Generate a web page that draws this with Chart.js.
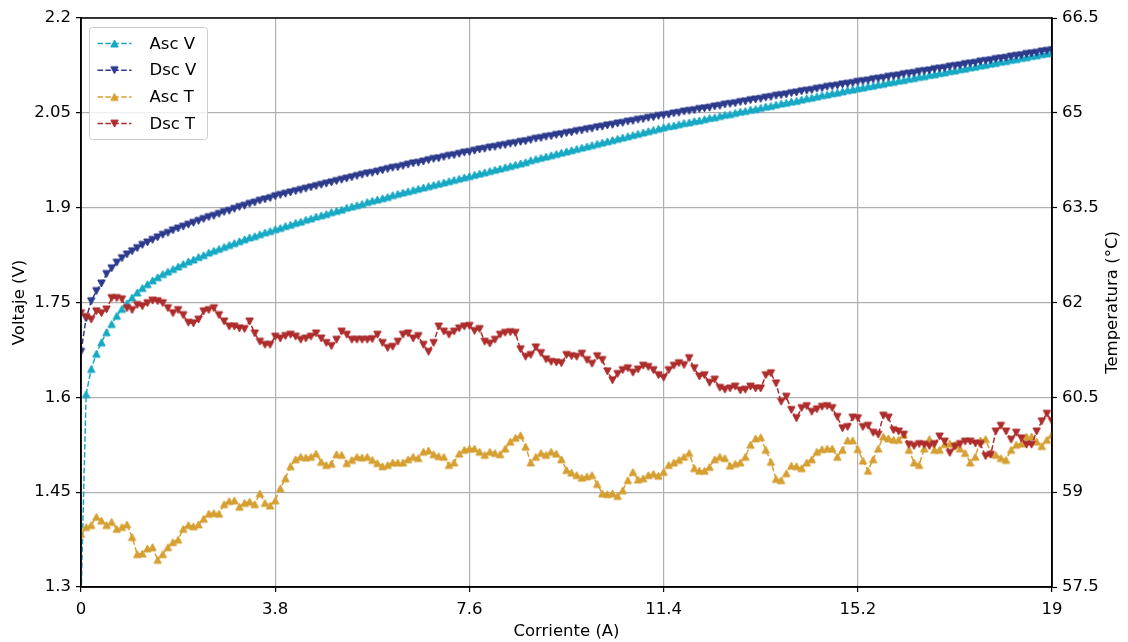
<!DOCTYPE html>
<html>
<head>
<meta charset="utf-8">
<script src="https://cdn.jsdelivr.net/npm/chart.js@4"></script>
<style>
  html, body { margin: 0; padding: 0; background: #ffffff; }
  canvas { display: block; }
</style>
</head>
<body>
<canvas id="chart" width="1128" height="642"></canvas>
<script>
// Current sweep (A), one reading every 0.1 A
const current = [
  0.0, 0.1, 0.2, 0.3, 0.4, 0.5, 0.6, 0.7, 0.8, 0.9,
  1.0, 1.1, 1.2, 1.3, 1.4, 1.5, 1.6, 1.7, 1.8, 1.9,
  2.0, 2.1, 2.2, 2.3, 2.4, 2.5, 2.6, 2.7, 2.8, 2.9,
  3.0, 3.1, 3.2, 3.3, 3.4, 3.5, 3.6, 3.7, 3.8, 3.9,
  4.0, 4.1, 4.2, 4.3, 4.4, 4.5, 4.6, 4.7, 4.8, 4.9,
  5.0, 5.1, 5.2, 5.3, 5.4, 5.5, 5.6, 5.7, 5.8, 5.9,
  6.0, 6.1, 6.2, 6.3, 6.4, 6.5, 6.6, 6.7, 6.8, 6.9,
  7.0, 7.1, 7.2, 7.3, 7.4, 7.5, 7.6, 7.7, 7.8, 7.9,
  8.0, 8.1, 8.2, 8.3, 8.4, 8.5, 8.6, 8.7, 8.8, 8.9,
  9.0, 9.1, 9.2, 9.3, 9.4, 9.5, 9.6, 9.7, 9.8, 9.9,
  10.0, 10.1, 10.2, 10.3, 10.4, 10.5, 10.6, 10.7, 10.8, 10.9,
  11.0, 11.1, 11.2, 11.3, 11.4, 11.5, 11.6, 11.7, 11.8, 11.9,
  12.0, 12.1, 12.2, 12.3, 12.4, 12.5, 12.6, 12.7, 12.8, 12.9,
  13.0, 13.1, 13.2, 13.3, 13.4, 13.5, 13.6, 13.7, 13.8, 13.9,
  14.0, 14.1, 14.2, 14.3, 14.4, 14.5, 14.6, 14.7, 14.8, 14.9,
  15.0, 15.1, 15.2, 15.3, 15.4, 15.5, 15.6, 15.7, 15.8, 15.9,
  16.0, 16.1, 16.2, 16.3, 16.4, 16.5, 16.6, 16.7, 16.8, 16.9,
  17.0, 17.1, 17.2, 17.3, 17.4, 17.5, 17.6, 17.7, 17.8, 17.9,
  18.0, 18.1, 18.2, 18.3, 18.4, 18.5, 18.6, 18.7, 18.8, 18.9,
  19.0
];

// Voltage on the ascending sweep (V)
const ascVoltage = [
  1.280, 1.605, 1.645, 1.669, 1.687, 1.703, 1.716, 1.729, 1.740, 1.749,
  1.758, 1.766, 1.773, 1.779, 1.785, 1.790, 1.795, 1.799, 1.803, 1.807,
  1.811, 1.815, 1.818, 1.822, 1.825, 1.829, 1.832, 1.835, 1.838, 1.841,
  1.844, 1.847, 1.850, 1.853, 1.855, 1.858, 1.861, 1.863, 1.866, 1.868,
  1.871, 1.873, 1.876, 1.878, 1.881, 1.883, 1.886, 1.888, 1.890, 1.893,
  1.895, 1.897, 1.900, 1.902, 1.904, 1.906, 1.909, 1.911, 1.913, 1.915,
  1.917, 1.920, 1.922, 1.924, 1.926, 1.928, 1.930, 1.932, 1.934, 1.936,
  1.938, 1.940, 1.942, 1.944, 1.946, 1.948, 1.950, 1.952, 1.954, 1.956,
  1.958, 1.960, 1.962, 1.964, 1.966, 1.968, 1.970, 1.972, 1.975, 1.977,
  1.979, 1.981, 1.983, 1.985, 1.987, 1.989, 1.991, 1.993, 1.995, 1.997,
  1.999, 2.001, 2.003, 2.005, 2.007, 2.009, 2.011, 2.013, 2.015, 2.017,
  2.019, 2.021, 2.023, 2.025, 2.027, 2.029, 2.030, 2.032, 2.034, 2.035,
  2.037, 2.038, 2.040, 2.042, 2.043, 2.045, 2.047, 2.048, 2.050, 2.052,
  2.053, 2.055, 2.056, 2.058, 2.060, 2.061, 2.063, 2.065, 2.066, 2.068,
  2.069, 2.071, 2.073, 2.074, 2.076, 2.078, 2.079, 2.081, 2.082, 2.084,
  2.086, 2.087, 2.089, 2.090, 2.092, 2.093, 2.095, 2.096, 2.098, 2.099,
  2.101, 2.102, 2.104, 2.105, 2.107, 2.108, 2.110, 2.111, 2.113, 2.114,
  2.116, 2.117, 2.119, 2.120, 2.122, 2.123, 2.125, 2.126, 2.128, 2.129,
  2.131, 2.132, 2.134, 2.135, 2.137, 2.138, 2.140, 2.141, 2.143, 2.144,
  2.146
];

// Voltage on the descending sweep (V)
const dscVoltage = [
  1.672, 1.725, 1.752, 1.768, 1.780, 1.795, 1.804, 1.813, 1.820, 1.826,
  1.831, 1.836, 1.841, 1.845, 1.849, 1.853, 1.857, 1.860, 1.864, 1.867,
  1.870, 1.873, 1.876, 1.879, 1.882, 1.885, 1.887, 1.890, 1.893, 1.895,
  1.898, 1.901, 1.903, 1.906, 1.908, 1.911, 1.913, 1.915, 1.918, 1.920,
  1.922, 1.924, 1.926, 1.928, 1.930, 1.932, 1.934, 1.936, 1.938, 1.940,
  1.942, 1.944, 1.946, 1.948, 1.950, 1.952, 1.954, 1.955, 1.957, 1.959,
  1.961, 1.963, 1.964, 1.966, 1.968, 1.970, 1.971, 1.973, 1.975, 1.977,
  1.978, 1.980, 1.982, 1.983, 1.985, 1.987, 1.988, 1.990, 1.992, 1.993,
  1.995, 1.996, 1.998, 1.999, 2.001, 2.002, 2.004, 2.005, 2.007, 2.009,
  2.010, 2.012, 2.013, 2.015, 2.016, 2.018, 2.019, 2.021, 2.022, 2.024,
  2.025, 2.027, 2.028, 2.030, 2.031, 2.033, 2.034, 2.036, 2.037, 2.039,
  2.040, 2.042, 2.043, 2.045, 2.046, 2.047, 2.049, 2.050, 2.052, 2.053,
  2.054, 2.056, 2.057, 2.058, 2.060, 2.061, 2.063, 2.064, 2.065, 2.067,
  2.068, 2.070, 2.071, 2.072, 2.074, 2.075, 2.077, 2.078, 2.079, 2.081,
  2.082, 2.084, 2.085, 2.086, 2.088, 2.089, 2.091, 2.092, 2.093, 2.095,
  2.096, 2.097, 2.099, 2.100, 2.101, 2.103, 2.104, 2.105, 2.107, 2.108,
  2.109, 2.111, 2.112, 2.113, 2.115, 2.116, 2.117, 2.119, 2.120, 2.121,
  2.123, 2.124, 2.125, 2.127, 2.128, 2.129, 2.131, 2.132, 2.133, 2.135,
  2.136, 2.137, 2.139, 2.140, 2.141, 2.143, 2.144, 2.145, 2.147, 2.148,
  2.149
];

// Temperature on the ascending sweep (°C)
const ascTemp = [
  58.34, 58.45, 58.48, 58.61, 58.55, 58.48, 58.53, 58.42, 58.45, 58.49,
  58.29, 58.02, 58.03, 58.11, 58.13, 57.93, 58.02, 58.13, 58.21, 58.25,
  58.42, 58.48, 58.46, 58.49, 58.58, 58.66, 58.67, 58.66, 58.81, 58.86,
  58.87, 58.77, 58.83, 58.85, 58.81, 58.98, 58.83, 58.79, 58.87, 59.06,
  59.22, 59.41, 59.52, 59.56, 59.55, 59.56, 59.61, 59.48, 59.43, 59.45,
  59.60, 59.59, 59.46, 59.51, 59.56, 59.55, 59.56, 59.51, 59.46, 59.41,
  59.43, 59.47, 59.47, 59.47, 59.52, 59.56, 59.54, 59.64, 59.66, 59.60,
  59.57, 59.56, 59.43, 59.47, 59.61, 59.67, 59.69, 59.69, 59.64, 59.59,
  59.64, 59.62, 59.60, 59.69, 59.80, 59.86, 59.90, 59.72, 59.47, 59.56,
  59.62, 59.59, 59.64, 59.61, 59.52, 59.35, 59.31, 59.27, 59.23, 59.25,
  59.27, 59.13, 58.98, 58.97, 58.98, 58.94, 59.03, 59.19, 59.32, 59.20,
  59.22, 59.27, 59.29, 59.26, 59.32, 59.43, 59.47, 59.51, 59.56, 59.62,
  59.38, 59.34, 59.34, 59.40, 59.52, 59.56, 59.54, 59.42, 59.45, 59.47,
  59.56, 59.75, 59.85, 59.87, 59.67, 59.48, 59.21, 59.19, 59.30, 59.42,
  59.41, 59.38, 59.47, 59.52, 59.64, 59.68, 59.69, 59.69, 59.56, 59.67,
  59.82, 59.82, 59.68, 59.50, 59.34, 59.52, 59.69, 59.88, 59.85, 59.83,
  59.83, 59.91, 59.67, 59.47, 59.43, 59.69, 59.84, 59.67, 59.67, 59.76,
  59.77, 59.75, 59.69, 59.62, 59.47, 59.56, 59.82, 59.84, 59.62, 59.59,
  59.54, 59.51, 59.67, 59.75, 59.77, 59.88, 59.88, 59.80, 59.73, 59.83,
  59.91
];

// Temperature on the descending sweep (°C)
const dscTemp = [
  61.83, 61.77, 61.73, 61.86, 61.83, 61.89, 62.07, 62.07, 62.05, 61.91,
  61.88, 61.96, 61.94, 61.99, 62.03, 62.02, 61.99, 61.91, 61.83, 61.88,
  61.80, 61.68, 61.67, 61.73, 61.86, 61.88, 61.91, 61.80, 61.70, 61.62,
  61.62, 61.59, 61.58, 61.70, 61.51, 61.38, 61.33, 61.33, 61.46, 61.43,
  61.47, 61.49, 61.46, 61.41, 61.43, 61.46, 61.51, 61.43, 61.36, 61.31,
  61.41, 61.54, 61.49, 61.41, 61.41, 61.41, 61.41, 61.42, 61.49, 61.36,
  61.28, 61.30, 61.38, 61.49, 61.51, 61.43, 61.47, 61.33, 61.22, 61.36,
  61.62, 61.54, 61.49, 61.54, 61.59, 61.62, 61.63, 61.55, 61.58, 61.38,
  61.35, 61.41, 61.49, 61.52, 61.53, 61.52, 61.26, 61.14, 61.17, 61.29,
  61.20, 61.10, 61.06, 61.05, 61.04, 61.17, 61.15, 61.14, 61.19, 61.09,
  61.03, 61.15, 61.09, 60.91, 60.77, 60.87, 60.93, 60.96, 60.89, 60.94,
  61.00, 60.98, 60.93, 60.85, 60.81, 60.93, 61.00, 61.04, 61.01, 61.12,
  60.96, 60.83, 60.85, 60.73, 60.78, 60.65, 60.62, 60.64, 60.67, 60.61,
  60.62, 60.67, 60.64, 60.64, 60.85, 60.88, 60.72, 60.43, 60.51, 60.30,
  60.17, 60.33, 60.36, 60.27, 60.31, 60.35, 60.36, 60.33, 60.19, 60.01,
  60.03, 60.18, 60.17, 60.03, 60.05, 59.94, 59.91, 60.21, 60.18, 59.98,
  59.96, 59.91, 59.75, 59.73, 59.76, 59.75, 59.73, 59.76, 59.88, 59.80,
  59.62, 59.72, 59.76, 59.80, 59.80, 59.77, 59.76, 59.57, 59.59, 59.96,
  60.05, 59.96, 59.83, 59.94, 59.85, 59.75, 59.75, 59.96, 60.12, 60.24,
  60.12
];

// Axis tick positions
const currentTicks = [0, 3.8, 7.6, 11.4, 15.2, 19];
const voltageTicks = [1.3, 1.45, 1.6, 1.75, 1.9, 2.05, 2.2];
const tempTicks = [57.5, 59, 60.5, 62, 63.5, 65, 66.5];

const FONT = { family: 'DejaVu Sans', size: 16.5 };
const FONT_CSS = FONT.size + 'px "' + FONT.family + '"';
const GRID = '#b0b0b0';
const DASH = [5.5, 2.4];

// Isosceles triangle marker (same width and height), pointing up or down
function triangleMarker(color, up) {
  const size = 11;
  const c = document.createElement('canvas');
  c.width = size; c.height = size;
  const g = c.getContext('2d');
  const m = size / 2, hw = 3.7, hh = 3.5;
  g.beginPath();
  if (up) {
    g.moveTo(m, m - hh); g.lineTo(m - hw, m + hh); g.lineTo(m + hw, m + hh);
  } else {
    g.moveTo(m, m + hh); g.lineTo(m - hw, m - hh); g.lineTo(m + hw, m - hh);
  }
  g.closePath();
  g.fillStyle = color; g.strokeStyle = color; g.lineWidth = 1; g.lineJoin = 'miter';
  g.fill(); g.stroke();
  return c;
}

function pairs(xs, ys) {
  return xs.map((x, i) => ({ x: x, y: ys[i] }));
}

function series(label, values, color, axis, up, order) {
  return {
    label: label,
    data: pairs(current, values),
    yAxisID: axis,
    borderColor: color,
    backgroundColor: color,
    borderWidth: 1.5,
    borderDash: DASH,
    pointStyle: triangleMarker(color, up),
    pointRadius: 4,
    tension: 0,
    order: order
  };
}

function fixedTicks(values) {
  return function (scale) {
    scale.ticks = values.map(v => ({ value: v }));
  };
}

// Box around the plotting area and the right-hand axis title
const frame = {
  id: 'frame',
  afterDatasetsDraw(chart) {
    const a = chart.chartArea, ctx = chart.ctx;
    ctx.save();
    ctx.strokeStyle = '#000';
    ctx.lineWidth = 1.5;
    ctx.strokeRect(a.left, a.top, a.right - a.left, a.bottom - a.top);
    ctx.translate(1113, (a.top + a.bottom) / 2);
    ctx.rotate(-Math.PI / 2);
    ctx.fillStyle = '#000';
    ctx.font = FONT_CSS;
    ctx.textAlign = 'center';
    ctx.textBaseline = 'middle';
    ctx.fillText('Temperatura (°C)', 0, 0);
    ctx.restore();
  }
};

// Legend box in the upper-left corner of the plot
const insetLegend = {
  id: 'insetLegend',
  afterDraw(chart) {
    const ctx = chart.ctx;
    const a = chart.chartArea;
    const x0 = a.left + 8.5, y0 = a.top + 9.5, w = 118, h = 112;
    ctx.save();
    ctx.beginPath();
    ctx.roundRect(x0, y0, w, h, 3);
    ctx.fillStyle = 'rgba(255,255,255,0.8)';
    ctx.fill();
    ctx.strokeStyle = '#cccccc';
    ctx.lineWidth = 1;
    ctx.stroke();
    ctx.font = FONT_CSS;
    ctx.textBaseline = 'middle';
    chart.data.datasets.forEach((ds, i) => {
      const y = y0 + 16 + i * 26.7;
      const lx0 = x0 + 8, lx1 = x0 + 42;
      ctx.strokeStyle = ds.borderColor;
      ctx.lineWidth = ds.borderWidth;
      ctx.setLineDash(ds.borderDash);
      ctx.beginPath();
      ctx.moveTo(lx0, y);
      ctx.lineTo(lx1, y);
      ctx.stroke();
      ctx.setLineDash([]);
      const mk = ds.pointStyle;
      ctx.drawImage(mk, (lx0 + lx1) / 2 - mk.width / 2, y - mk.height / 2);
      ctx.fillStyle = '#000';
      ctx.fillText(ds.label, x0 + 60, y + 1);
    });
    ctx.restore();
  }
};

const chart = new Chart(document.getElementById('chart'), {
  type: 'line',
  data: {
    datasets: [
      series('Asc V', ascVoltage, '#17a9c4', 'y', true, 4),
      series('Dsc V', dscVoltage, '#2c3a8c', 'y', false, 3),
      series('Asc T', ascTemp, '#d69f32', 'y2', true, 2),
      series('Dsc T', dscTemp, '#ad2c2c', 'y2', false, 1)
    ]
  },
  options: {
    responsive: false,
    animation: false,
    devicePixelRatio: 1,
    events: [],
    layout: { padding: { top: 18, left: 0, right: 0, bottom: 0 } },
    plugins: { legend: { display: false }, tooltip: { enabled: false } },
    scales: {
      x: {
        type: 'linear',
        min: 0, max: 19,
        afterBuildTicks: fixedTicks(currentTicks),
        afterFit(s) { s.height = 55; },
        ticks: { color: '#000', font: FONT, padding: 8, maxRotation: 0, autoSkip: false,
                 callback: v => String(v) },
        grid: { color: GRID, lineWidth: 1.2, tickColor: '#000', tickLength: 5, tickWidth: 1.2 },
        border: { color: '#000', width: 1.5 },
        title: { display: true, text: 'Corriente (A)', color: '#000', font: FONT,
                 padding: { top: 1, bottom: 0 } }
      },
      y: {
        type: 'linear', position: 'left',
        min: 1.3, max: 2.2,
        afterBuildTicks: fixedTicks(voltageTicks),
        afterFit(s) { s.width = 81; },
        ticks: { color: '#000', font: FONT, padding: 5, autoSkip: false,
                 callback: v => String(v) },
        grid: { color: GRID, lineWidth: 1.2, tickColor: '#000', tickLength: 5, tickWidth: 1.2 },
        border: { color: '#000', width: 1.5 },
        title: { display: true, text: 'Voltaje (V)', color: '#000', font: FONT,
                 padding: { top: 10, bottom: 0 } }
      },
      y2: {
        type: 'linear', position: 'right',
        min: 57.5, max: 66.5,
        afterBuildTicks: fixedTicks(tempTicks),
        afterFit(s) { s.width = 76; },
        ticks: { color: '#000', font: FONT, padding: 5, autoSkip: false,
                 callback: v => String(v) },
        grid: { drawOnChartArea: false, tickColor: '#000', tickLength: 5, tickWidth: 1.2 },
        border: { color: '#000', width: 1.5 },
        title: { display: false }
      }
    }
  },
  plugins: [frame, insetLegend]
});
</script>
</body>
</html>
